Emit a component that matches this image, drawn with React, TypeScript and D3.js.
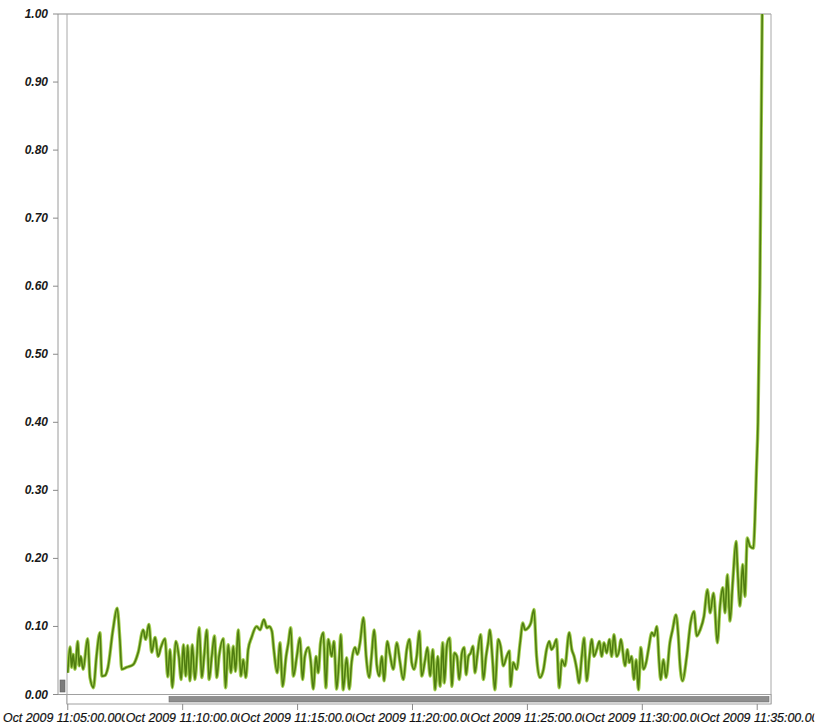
import React, { useEffect } from 'react'
import * as d3 from 'd3'

// seconds after 11:05:00, and the value read at that moment
const seconds = [
  0, 6, 10, 14, 19, 26, 30, 34, 40, 52, 58, 67, 75, 84, 89, 97, 105, 118, 129, 136,
  141, 154, 171, 184, 197, 203, 212, 219, 228, 236, 243, 254, 261, 267, 273, 282, 290, 296, 302, 308,
  313, 319, 325, 332, 343, 350, 356, 363, 369, 376, 383, 389, 395, 406, 412, 419, 426, 432, 438, 445,
  452, 458, 465, 471, 480, 493, 502, 512, 520, 526, 533, 538, 547, 554, 561, 570, 576, 582, 589, 598,
  606, 613, 619, 628, 634, 641, 648, 654, 660, 667, 674, 680, 689, 695, 702, 709, 713, 719, 728, 735,
  741, 750, 756, 763, 772, 779, 787, 793, 800, 807, 813, 820, 826, 834, 841, 850, 859, 867, 876, 885,
  892, 898, 904, 911, 918, 924, 933, 939, 946, 953, 959, 966, 972, 979, 983, 990, 997, 1003, 1009, 1016,
  1022, 1029, 1035, 1040, 1046, 1052, 1058, 1063, 1069, 1078, 1085, 1092, 1098, 1102, 1109, 1115, 1124, 1130, 1137, 1146,
  1153, 1156, 1163, 1172, 1181, 1188, 1194, 1202, 1209, 1217, 1224, 1233, 1242, 1250, 1257, 1263, 1269, 1276, 1283, 1290,
  1298, 1309, 1316, 1322, 1329, 1335, 1342, 1348, 1355, 1362, 1368, 1374, 1381, 1388, 1394, 1400, 1407, 1414, 1420, 1426,
  1433, 1440, 1444, 1455, 1461, 1466, 1472, 1478, 1484, 1490, 1496, 1503, 1510, 1516, 1525, 1531, 1538, 1544, 1548, 1555,
  1562, 1572, 1579, 1588, 1594, 1598, 1605, 1616, 1626, 1635, 1642, 1651, 1661, 1670, 1677, 1686, 1696, 1703, 1710, 1716,
  1722, 1729, 1736, 1745, 1748, 1755, 1762, 1768, 1774, 1781, 1790, 1794, 1798, 1802, 1807, 1810, 1813
]

const values = [
  .032, .070, .040, .059, .037, .078, .042, .056, .037, .082, .025, .010, .056, .091, .027, .028, .040, .095, .127, .081,
  .037, .040, .044, .062, .095, .081, .103, .062, .084, .056, .069, .082, .026, .066, .010, .078, .056, .022, .073, .027,
  .072, .020, .073, .022, .098, .025, .056, .095, .022, .056, .086, .025, .056, .082, .010, .073, .032, .071, .034, .095,
  .027, .051, .025, .066, .084, .100, .095, .110, .098, .100, .093, .066, .032, .076, .012, .056, .076, .098, .027, .056,
  .083, .022, .056, .069, .051, .008, .056, .032, .076, .091, .010, .081, .056, .078, .008, .056, .088, .007, .054, .008,
  .047, .069, .059, .076, .113, .056, .025, .056, .095, .042, .027, .056, .020, .078, .059, .037, .076, .049, .022, .066,
  .081, .047, .037, .056, .093, .027, .051, .069, .027, .066, .007, .056, .012, .076, .017, .073, .083, .012, .061, .056,
  .022, .061, .069, .029, .056, .061, .071, .032, .056, .088, .022, .056, .078, .095, .051, .007, .081, .071, .042, .056,
  .064, .012, .047, .037, .076, .105, .095, .098, .105, .125, .056, .025, .037, .066, .078, .066, .071, .081, .010, .051,
  .042, .091, .066, .056, .037, .017, .056, .083, .020, .056, .081, .056, .066, .078, .056, .076, .061, .081, .056, .088,
  .056, .066, .081, .042, .066, .047, .056, .022, .051, .007, .069, .037, .047, .066, .091, .086, .100, .047, .022, .051,
  .025, .076, .095, .117, .086, .047, .020, .056, .105, .122, .086, .095, .115, .154, .120, .149, .076, .130, .157, .120,
  .176, .108, .164, .225, .193, .130, .191, .144, .230, .218, .215, .257, .330, .400, .600, .800, 1.00
]

const START = new Date(2009, 9, 16, 11, 5, 0)
const yTicks = [0, .1, .2, .3, .4, .5, .6, .7, .8, .9, 1]

const W = 815
const H = 726
const left = 67
const right = 771
const top = 14
const bottom = 694.5

const App = () => {
  useEffect(() => {
    document.body.style.margin = '0'
  }, [])

  const data = seconds.map((s, i) => ({ t: new Date(START.getTime() + s * 1000), v: values[i] }))

  const x = d3.scaleTime()
    .domain([new Date(START.getTime() - 2000), new Date(START.getTime() + 1836000)])
    .range([left, right])

  const y = d3.scaleLinear()
    .domain([0, 1])
    .range([bottom, top])

  const line = d3.line<{ t: Date, v: number }>()
    .x(d => x(d.t))
    .y(d => y(d.v))
    .curve(d3.curveMonotoneX)

  const path = line(data) || ''
  const xTicks = x.ticks(d3.timeMinute.every(5))
  const fmt = d3.timeFormat('%b %Y %H:%M:%S.%L')
  // label boxes: the first one hugs the left edge, the rest start a bit before their tick
  const labStart = (t: Date, i: number) => (i === 0 ? 3 : x(t) - 57)

  return (
    <svg width={W} height={H} style={{ display: 'block', background: '#fff' }}>
      <defs>
        <clipPath id="plot">
          <rect x={left} y={top} width={right - left} height={bottom - top} />
        </clipPath>
        {xTicks.map((t, i) => (
          <clipPath key={i} id={`lab${i}`}>
            <rect x={labStart(t, i)} y={700} width={x(t) + 57 - labStart(t, i)} height={26} />
          </clipPath>
        ))}
      </defs>

      {/* y axis */}
      <line x1={58} x2={58} y1={top} y2={bottom} stroke="#9a9a9a" />
      <line x1={58} x2={left} y1={bottom} y2={bottom} stroke="#9a9a9a" />
      {yTicks.map(v => (
        <g key={v}>
          <line x1={53} x2={58} y1={y(v)} y2={y(v)} stroke="#8a8a8a" />
          <text x={48} y={y(v) + 4} textAnchor="end"
            style={{ fontFamily: 'Liberation Sans, Arial, sans-serif', fontStyle: 'italic', fontWeight: 'bold', fontSize: 12, fill: '#1a1a1a' }}>
            {v.toFixed(2)}
          </text>
        </g>
      ))}

      {/* vertical scrollbar thumb */}
      <rect x={60} y={680} width={5} height={12} fill="#7c7c7c" stroke="#5e5e5e" strokeWidth={0.6} />

      {/* plot frame */}
      <line x1={58} x2={right} y1={top} y2={top} stroke="#8c8c8c" />
      <line x1={left} x2={left} y1={top} y2={704} stroke="#a8a8a8" />
      <line x1={right} x2={right} y1={top} y2={704} stroke="#a8a8a8" />

      {/* series */}
      <g clipPath="url(#plot)">
        <path d={path} fill="none" stroke="#a3cf52" strokeWidth={3.4} strokeLinejoin="round" />
        <path d={path} fill="none" stroke="#4f7d10" strokeWidth={1.6} strokeLinejoin="round" />
      </g>

      {/* horizontal scrollbar */}
      <rect x={left} y={bottom} width={right - left} height={9.5} fill="#fff" stroke="#a0a0a0" />
      <rect x={169} y={696.5} width={600} height={5.5} fill="#8e8e8e" stroke="#6e6e6e" strokeWidth={0.6} />

      {/* x axis */}
      {xTicks.map((t, i) => (
        <g key={i}>
          <line x1={x(t)} x2={x(t)} y1={704} y2={710} stroke="#8a8a8a" />
          <text x={labStart(t, i)} y={722} clipPath={`url(#lab${i})`}
            style={{ fontFamily: 'Liberation Sans, Arial, sans-serif', fontStyle: 'italic', fontSize: 12.4, fill: '#111', stroke: '#111', strokeWidth: 0.2 }}>
            {fmt(t)}
          </text>
        </g>
      ))}
    </svg>
  )
}

export default App
